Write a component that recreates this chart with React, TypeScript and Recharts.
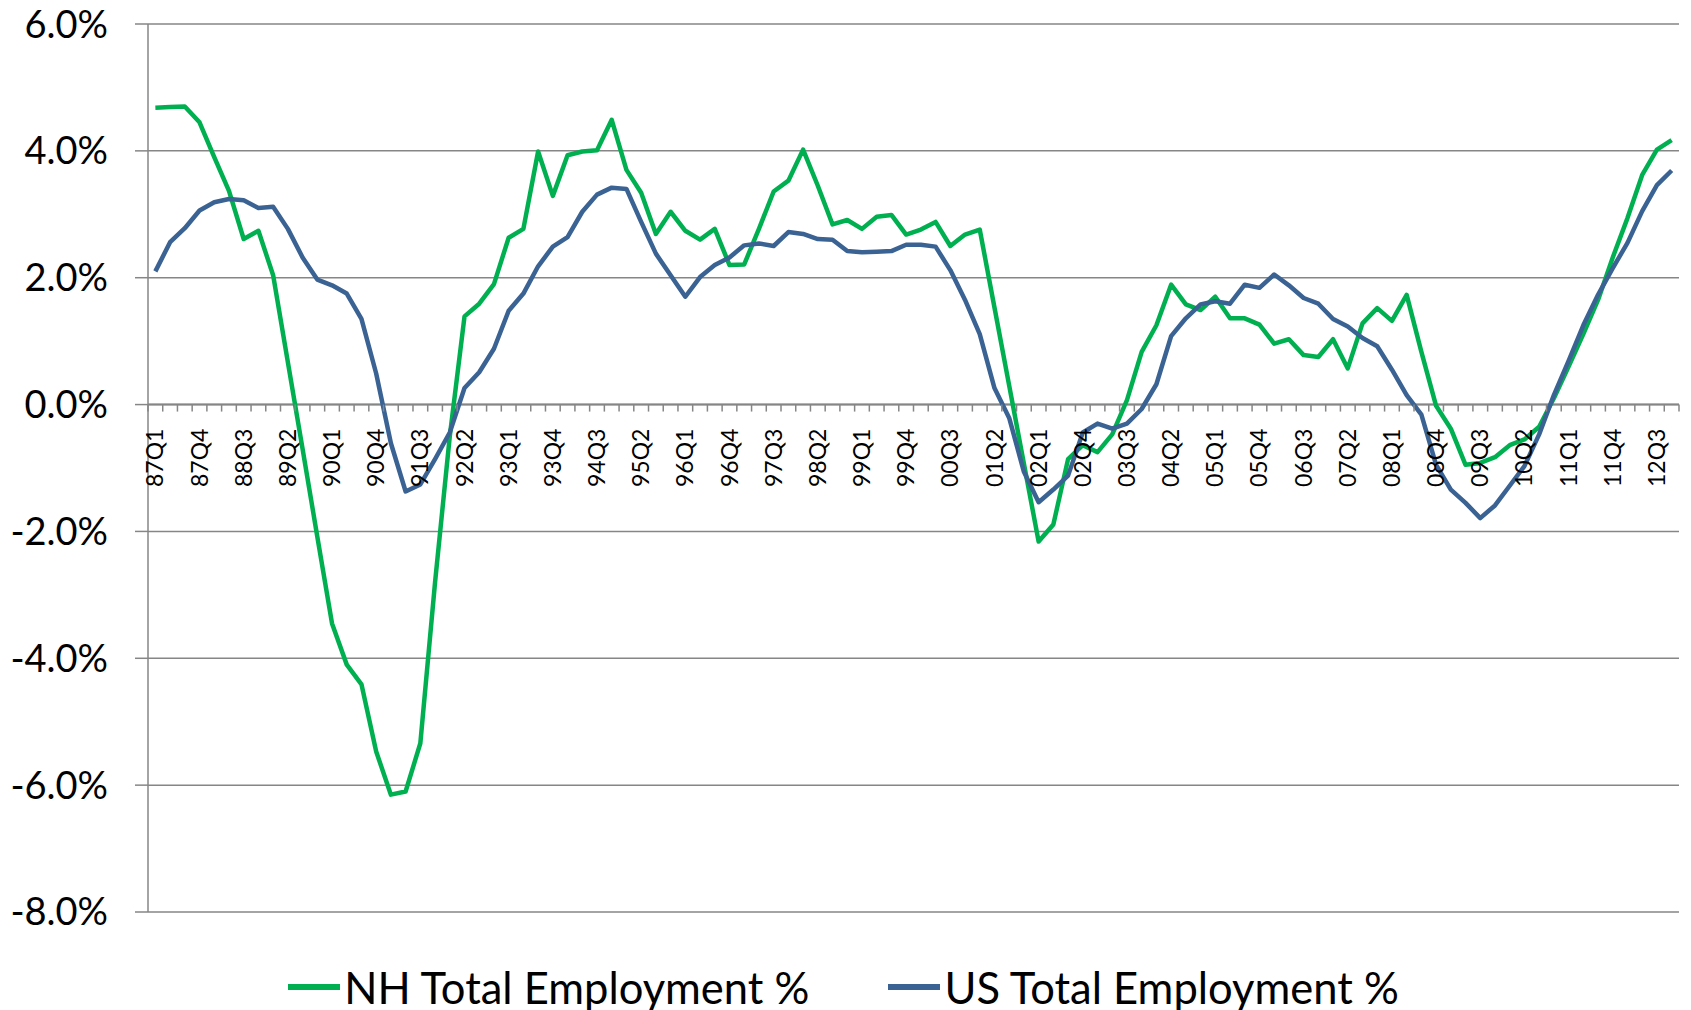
import React from 'react';
import { LineChart, Line, XAxis, YAxis, CartesianGrid, ReferenceLine, Legend } from 'recharts';

// quarters 87Q1 .. 12Q4
const years = ['87', '88', '89', '90', '91', '92', '93', '94', '95', '96', '97', '98', '99',
    '00', '01', '02', '03', '04', '05', '06', '07', '08', '09', '10', '11', '12'];
const quarters: string[] = [];
years.forEach(y => ['Q1', 'Q2', 'Q3', 'Q4'].forEach(q => quarters.push(y + q)));

const nhEmployment = [
    4.68, 4.69, 4.70, 4.45, 3.90, 3.37, 2.61, 2.74, 2.04, 0.67,
    -0.70, -2.08, -3.45, -4.10, -4.41, -5.47, -6.15, -6.10, -5.34, -2.80,
    -0.50, 1.39, 1.59, 1.90, 2.63, 2.77, 3.99, 3.29, 3.93, 3.99,
    4.01, 4.49, 3.70, 3.34, 2.69, 3.04, 2.74, 2.60, 2.77, 2.20,
    2.21, 2.77, 3.36, 3.53, 4.02, 3.45, 2.84, 2.91, 2.77, 2.96,
    2.99, 2.68, 2.76, 2.88, 2.50, 2.68, 2.76, 1.53, 0.30, -0.93,
    -2.16, -1.89, -0.86, -0.64, -0.75, -0.47, 0.07, 0.83, 1.25, 1.89,
    1.58, 1.49, 1.70, 1.36, 1.36, 1.26, 0.96, 1.03, 0.78, 0.75,
    1.03, 0.57, 1.28, 1.52, 1.32, 1.73, 0.83, -0.02, -0.38, -0.95,
    -0.92, -0.83, -0.64, -0.55, -0.35, 0.10, 0.60, 1.11, 1.65, 2.32,
    2.94, 3.62, 4.02, 4.17,
];

const usEmployment = [
    2.10, 2.56, 2.78, 3.06, 3.19, 3.24, 3.22, 3.10, 3.12, 2.77,
    2.32, 1.97, 1.88, 1.75, 1.35, 0.49, -0.61, -1.37, -1.26, -0.86,
    -0.44, 0.26, 0.51, 0.88, 1.48, 1.75, 2.18, 2.49, 2.64, 3.04,
    3.31, 3.42, 3.40, 2.88, 2.38, 2.04, 1.70, 2.01, 2.20, 2.32,
    2.51, 2.54, 2.50, 2.72, 2.69, 2.61, 2.60, 2.42, 2.40, 2.41,
    2.42, 2.52, 2.52, 2.49, 2.12, 1.65, 1.11, 0.26, -0.21, -1.06,
    -1.54, -1.34, -1.12, -0.44, -0.30, -0.38, -0.30, -0.07, 0.32, 1.08,
    1.36, 1.58, 1.63, 1.59, 1.89, 1.84, 2.05, 1.88, 1.68, 1.59,
    1.35, 1.23, 1.05, 0.92, 0.55, 0.15, -0.16, -0.95, -1.34, -1.55,
    -1.79, -1.59, -1.28, -0.97, -0.47, 0.15, 0.69, 1.25, 1.73, 2.15,
    2.55, 3.05, 3.46, 3.69,
];

const yTicks = [-8, -6, -4, -2, 0, 2, 4, 6];

const data = quarters.map((q, i) => ({ q, nh: nhEmployment[i], us: usEmployment[i] }));

const W = 1683;
const H = 1002;
const margin = { top: 16, right: 12, left: 0, bottom: 0 };
const Y_AXIS_W = 140;
const X_AXIS_H = 1;
const LEGEND_H = 97;
const PLOT_W = W - margin.left - margin.right - Y_AXIS_W;
const PLOT_H = H - margin.top - margin.bottom - LEGEND_H - X_AXIS_H;
const STEP = PLOT_W / quarters.length;
const Y_ZERO = margin.top + PLOT_H * (yTicks[yTicks.length - 1] / (yTicks[yTicks.length - 1] - yTicks[0]));

const GRAY = '#868686';
const GREEN = '#00B050';
const BLUE = '#3A6293';
const FONT = 'Lato, "Open Sans", sans-serif';

const QuarterTick = (props: any) => {
    const { x, payload, index } = props;
    const i = payload && payload.index !== undefined ? payload.index : index;
    const half = STEP / 2;
    const ly = Y_ZERO + 24;
    return (
        <g>
            <line x1={x - half} x2={x - half} y1={Y_ZERO} y2={Y_ZERO + 7} stroke={GRAY} strokeWidth={1.5} />
            {i === quarters.length - 1 &&
                <line x1={x + half} x2={x + half} y1={Y_ZERO} y2={Y_ZERO + 7} stroke={GRAY} strokeWidth={1.5} />}
            {i % 3 === 0 &&
                <text x={x} y={ly} dy="0.35em" textAnchor="end" transform={`rotate(-90 ${x} ${ly})`}
                    fontSize={23} fontFamily={FONT} fill="#000">{payload.value}</text>}
        </g>
    );
};

const renderLegend = (props: any) => {
    const { payload } = props;
    return (
        <div style={{ height: LEGEND_H, paddingTop: 51, boxSizing: 'border-box', display: 'flex', justifyContent: 'center', gap: 79 }}>
            {(payload || []).map((entry: any) => (
                <div key={entry.value} style={{ display: 'flex', alignItems: 'center', height: 46 }}>
                    <span style={{ display: 'inline-block', width: 52, height: 6, background: entry.color, marginRight: 4 }} />
                    <span style={{ fontFamily: FONT, fontSize: 43.5, lineHeight: '46px', color: '#000', whiteSpace: 'nowrap' }}>{entry.value}</span>
                </div>
            ))}
        </div>
    );
};

export default function App() {
    return (
        <div style={{ width: W, height: H }}>
            <LineChart width={W} height={H} data={data} margin={margin}>
                <CartesianGrid vertical={false} stroke={GRAY} strokeWidth={1.5} />
                <XAxis dataKey="q" scale="band" height={X_AXIS_H} interval={0} axisLine={false} tickLine={false}
                    tick={(p: any) => <QuarterTick {...p} />} />
                <YAxis domain={[yTicks[0], yTicks[yTicks.length - 1]]} ticks={yTicks} interval={0} width={Y_AXIS_W}
                    tickFormatter={(v: number) => `${v.toFixed(1)}%`}
                    tick={{ fontSize: 38, fontFamily: FONT, fill: '#000' }}
                    tickSize={13} tickMargin={27}
                    axisLine={{ stroke: GRAY, strokeWidth: 1.5 }} tickLine={{ stroke: GRAY, strokeWidth: 1.5 }} />
                <ReferenceLine y={0} stroke={GRAY} strokeWidth={2} />
                <Legend verticalAlign="bottom" height={LEGEND_H} content={renderLegend} />
                <Line type="linear" dataKey="nh" name="NH Total Employment %" stroke={GREEN} strokeWidth={4.5}
                    dot={false} isAnimationActive={false} strokeLinejoin="round" />
                <Line type="linear" dataKey="us" name="US Total Employment %" stroke={BLUE} strokeWidth={4.5}
                    dot={false} isAnimationActive={false} strokeLinejoin="round" />
            </LineChart>
        </div>
    );
}
